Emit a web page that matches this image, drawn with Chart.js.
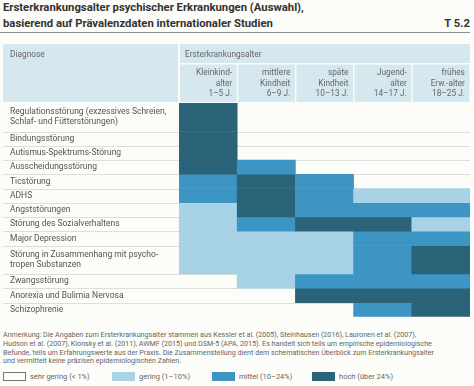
<!DOCTYPE html>
<html lang="de">
<head>
<meta charset="utf-8">
<script src="https://cdn.jsdelivr.net/npm/chart.js@4.4.0/dist/chart.umd.min.js"></script>
<style>
  html, body { margin: 0; padding: 0; background: #fcfcf8; }
  body { width: 474px; height: 386px; position: relative; overflow: hidden; font-family: Roboto, "Liberation Sans", sans-serif; color: #444; }
  .title { position: absolute; left: 3px; top: 0; font-weight: 700; font-size: 11.3px; line-height: 15.5px; color: #333; }
  .tnum { position: absolute; right: 4px; top: 15.5px; font-weight: 700; font-size: 11.3px; line-height: 15.5px; color: #333; }
  .rule { position: absolute; left: 0; top: 32px; width: 470px; height: 0; border-top: 1.5px solid #8c8c8c; }
  .chartBox { position: absolute; left: 0; top: 40px; width: 474px; height: 290px; }
  .note { position: absolute; left: 3px; top: 331px; width: 470px; font-size: 7.15px; line-height: 8.8px; color: #666; }
  .lg { position: absolute; top: 372px; font-size: 7.5px; line-height: 10px; color: #666; white-space: nowrap; }
  .lg i { display: inline-block; width: 23px; height: 9px; vertical-align: top; margin-right: 4px; box-sizing: border-box; }
</style>
</head>
<body>
<div class="title">Ersterkrankungsalter psychischer Erkrankungen (Auswahl),<br>basierend auf Prävalenzdaten internationaler Studien</div>
<div class="tnum">T 5.2</div>
<div class="rule"></div>
<div class="chartBox"><canvas id="chartCanvas"></canvas></div>
<div class="note">Anmerkung: Die Angaben zum Ersterkrankungsalter stammen aus Kessler et al. (2005), Steinhausen (2016), Lauronen et al. (2007),<br>Hudson et al. (2007), Klonsky et al. (2011), AWMF (2015) und DSM-5 (APA, 2015). Es handelt sich teils um empirische epidemiologische<br>Befunde, teils um Erfahrungswerte aus der Praxis. Die Zusammenstellung dient dem schematischen Überblick zum Ersterkrankungsalter<br>und vermittelt keine präzisen epidemiologischen Zahlen.</div>
<div id="legend"></div>
<script>
// Altersgruppen (Spalten)
var columns = [
  ['Kleinkind-', 'alter', '1–5 J.'],
  ['mittlere', 'Kindheit', '6–9 J.'],
  ['späte', 'Kindheit', '10–13 J.'],
  ['Jugend-', 'alter', '14–17 J.'],
  ['frühes', 'Erw.-alter', '18–25 J.']
];

// Diagnosen (Zeilen), zweizeilige Einträge als Array
var diagnoses = [
  ['Regulationsstörung (exzessives Schreien,', 'Schlaf- und Fütterstörungen)'],
  'Bindungsstörung',
  'Autismus-Spektrums-Störung',
  'Ausscheidungsstörung',
  'Ticstörung',
  'ADHS',
  'Angststörungen',
  'Störung des Sozialverhaltens',
  'Major Depression',
  ['Störung in Zusammenhang mit psycho-', 'tropen Substanzen'],
  'Zwangsstörung',
  'Anorexia und Bulimia Nervosa',
  'Schizophrenie'
];

// Zeilenhöhe in Texteinheiten
var rowSpans = [2, 1, 1, 1, 1, 1, 1, 1, 1, 2, 1, 1, 1];

// Stufe je Altersgruppe: 0 sehr gering, 1 gering, 2 mittel, 3 hoch
var levels = [
  [3, 0, 0, 0, 0],
  [3, 0, 0, 0, 0],
  [3, 0, 0, 0, 0],
  [3, 2, 0, 0, 0],
  [2, 3, 2, 0, 0],
  [2, 3, 2, 1, 1],
  [1, 3, 2, 2, 2],
  [1, 2, 3, 3, 1],
  [1, 1, 1, 2, 2],
  [1, 1, 1, 2, 3],
  [0, 1, 2, 2, 2],
  [0, 0, 3, 3, 3],
  [0, 0, 0, 2, 3]
];

var levelLabels = ['sehr gering (< 1%)', 'gering (1–10%)', 'mittel (10–24%)', 'hoch (über 24%)'];
var levelColors = ['rgba(0,0,0,0)', '#a8d3e6', '#3d95c3', '#2b6379'];

// Zeilenanfang / -mitte aus den Zeilenhöhen
var rowStarts = [];
var rowCenters = [];
var acc = 0;
for (var r = 0; r < rowSpans.length; r++) {
  rowStarts.push(acc);
  rowCenters.push(acc + rowSpans[r] / 2);
  acc += rowSpans[r];
}
var totalRows = acc;

var datasets = diagnoses.map(function(d, i) {
  return {
    label: Array.isArray(d) ? d.join(' ') : d,
    data: levels[i].map(function() { return [rowStarts[i], rowStarts[i] + rowSpans[i]]; }),
    backgroundColor: levels[i].map(function(l) { return levelColors[l]; }),
    borderWidth: 0,
    grouped: false,
    barPercentage: 1,
    categoryPercentage: 1
  };
});

// Kopfzeilen und Trennlinien der Tabelle
var tableFrame = {
  id: 'tableFrame',
  beforeDraw: function(chart) {
    var ctx = chart.ctx, xs = chart.scales.x, ys = chart.scales.y, a = chart.chartArea;
    var left = ys.left - 7;
    var headTop = xs.top, headMid = xs.top + 19, headBot = a.top - 1;
    var colW = (a.right - a.left) / columns.length;
    ctx.save();
    ctx.fillStyle = '#d6e8ef';
    ctx.fillRect(left, headTop, a.left - 1 - left, headBot - headTop);
    ctx.fillRect(a.left + 1, headTop, a.right - a.left - 1, headMid - headTop);
    for (var i = 0; i < columns.length; i++) {
      ctx.fillRect(a.left + i * colW + 1, headMid + 1.5, colW - 1.5, headBot - headMid - 1.5);
    }
    ctx.fillStyle = '#666';
    ctx.font = '8.3px Roboto, "Liberation Sans", sans-serif';
    ctx.textBaseline = 'middle';
    ctx.fillText('Diagnose', ys.left, headTop + 11);
    ctx.fillText('Ersterkrankungsalter', a.left + 6, headTop + 11);

    ctx.strokeStyle = '#dedede';
    ctx.lineWidth = 1;
    for (var r = 1; r < rowStarts.length; r++) {
      var y = Math.round(ys.getPixelForValue(rowStarts[r])) + 0.5;
      ctx.beginPath();
      ctx.moveTo(left, y);
      ctx.lineTo(a.right, y);
      ctx.stroke();
    }
    ctx.restore();
  }
};

var ctx = document.getElementById('chartCanvas').getContext('2d');
new Chart(ctx, {
  type: 'bar',
  data: { labels: columns, datasets: datasets },
  options: {
    responsive: true,
    maintainAspectRatio: false,
    animation: false,
    layout: { padding: { left: 10, top: 4, right: 4, bottom: 3 } },
    plugins: {
      legend: { display: false },
      tooltip: { enabled: false }
    },
    scales: {
      x: {
        position: 'top',
        grid: { display: false, drawTicks: false },
        border: { display: false },
        ticks: {
          align: 'end',
          labelOffset: 24,
          padding: 4,
          autoSkip: false,
          maxRotation: 0,
          color: '#666',
          font: { size: 8.3, family: 'Roboto, "Liberation Sans", sans-serif', lineHeight: 1.25 }
        },
        afterFit: function(s) { s.height = 59; }
      },
      y: {
        type: 'linear',
        reverse: true,
        min: 0,
        max: totalRows,
        grid: { display: false, drawTicks: false },
        border: { display: false },
        afterBuildTicks: function(s) {
          s.ticks = rowCenters.map(function(v) { return { value: v }; });
        },
        ticks: {
          autoSkip: false,
          crossAlign: 'far',
          color: '#555',
          font: { size: 8.5, family: 'Roboto, "Liberation Sans", sans-serif', lineHeight: 1.2 },
          callback: function(value, index) { return diagnoses[index]; }
        },
        afterFit: function(s) { s.width = 169; }
      }
    }
  },
  plugins: [tableFrame]
});

// Legende
var legendLeft = [3, 112, 212, 312];
var lg = document.getElementById('legend');
for (var k = 0; k < levelLabels.length; k++) {
  var item = document.createElement('div');
  item.className = 'lg';
  item.style.left = legendLeft[k] + 'px';
  var sw = document.createElement('i');
  sw.style.background = k === 0 ? '#fcfcf8' : levelColors[k];
  if (k === 0) sw.style.border = '1px solid #777';
  item.appendChild(sw);
  item.appendChild(document.createTextNode(levelLabels[k]));
  lg.appendChild(item);
}
</script>
</body>
</html>
